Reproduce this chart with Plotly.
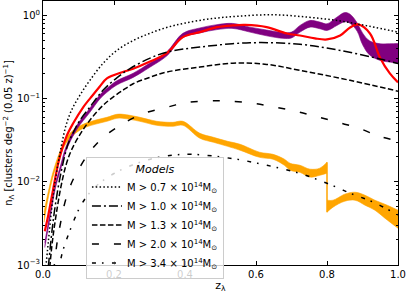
import plotly.graph_objects as go

# ---------------- data ----------------
# Model curves: cumulative mass thresholds
z_m07 = [0.005, 0.015, 0.025, 0.034, 0.045, 0.055, 0.065, 0.08, 0.104, 0.132, 0.169, 0.208, 0.254, 0.301,
         0.35, 0.40, 0.47, 0.55, 0.65, 0.75, 0.837, 0.92, 1.0]
n_m07 = [0.0007, 0.0019, 0.0050, 0.010, 0.019, 0.0316, 0.048, 0.072, 0.11, 0.166, 0.265, 0.38, 0.50, 0.61,
         0.72, 0.81, 0.91, 0.98, 1.02, 0.95, 0.86, 0.74, 0.63]

z_m10 = [0.015, 0.025, 0.034, 0.05, 0.07, 0.085, 0.104, 0.132, 0.169, 0.208, 0.245, 0.30, 0.349, 0.442,
         0.583, 0.724, 0.837, 0.949, 1.0]
n_m10 = [0.00095, 0.0025, 0.005, 0.0125, 0.028, 0.039, 0.055, 0.079, 0.126, 0.178, 0.23, 0.305, 0.363, 0.417,
         0.47, 0.45, 0.38, 0.30, 0.265]

z_m13 = [0.015, 0.025, 0.034, 0.05, 0.065, 0.08, 0.104, 0.132, 0.169, 0.189, 0.225, 0.254, 0.30, 0.349,
         0.442, 0.535, 0.625, 0.724, 0.865, 1.0]
n_m13 = [0.0006, 0.0017, 0.0033, 0.0085, 0.016, 0.024, 0.037, 0.055, 0.083, 0.098, 0.126, 0.151, 0.18, 0.209,
         0.24, 0.267, 0.26, 0.219, 0.166, 0.123]

z_m20 = [0.03, 0.04, 0.05, 0.062, 0.08, 0.099, 0.132, 0.169, 0.225, 0.282, 0.35, 0.406, 0.50, 0.59, 0.655,
         0.715, 0.77, 0.83, 0.89, 0.95, 1.0]
n_m20 = [0.00084, 0.0019, 0.0033, 0.0057, 0.0096, 0.0138, 0.023, 0.034, 0.05, 0.066, 0.079, 0.090, 0.094,
         0.088, 0.079, 0.070, 0.061, 0.052, 0.044, 0.035, 0.031]

z_m34 = [0.04, 0.054, 0.076, 0.11, 0.15, 0.2, 0.25, 0.3, 0.366, 0.42, 0.535, 0.631, 0.724, 0.80, 0.865,
         0.93, 1.0]
n_m34 = [0.0007, 0.00138, 0.0026, 0.0055, 0.0089, 0.0126, 0.0158, 0.0186, 0.0209, 0.0214, 0.019, 0.0158,
         0.0126, 0.0096, 0.0073, 0.0057, 0.0040]

model_labels = ["M > 0.7 × 10<sup>14</sup>M<sub>⊙</sub>",
                "M > 1.0 × 10<sup>14</sup>M<sub>⊙</sub>",
                "M > 1.3 × 10<sup>14</sup>M<sub>⊙</sub>",
                "M > 2.0 × 10<sup>14</sup>M<sub>⊙</sub>",
                "M > 3.4 × 10<sup>14</sup>M<sub>⊙</sub>"]

# Red data curve
z_red = [0.005, 0.015, 0.028, 0.045, 0.065, 0.085, 0.113, 0.14, 0.16, 0.18, 0.225, 0.254, 0.30, 0.349,
         0.394, 0.442, 0.49, 0.535, 0.57, 0.63, 0.687, 0.724, 0.766, 0.80, 0.837, 0.865, 0.887, 0.921,
         0.949, 0.977, 1.0]
n_red = [0.00255, 0.0040, 0.0079, 0.0182, 0.0343, 0.0505, 0.0787, 0.110, 0.14, 0.175, 0.209, 0.229, 0.277,
         0.353, 0.549, 0.630, 0.724, 0.759, 0.769, 0.724, 0.608, 0.575, 0.530, 0.515, 0.575, 0.718, 0.780,
         0.608, 0.313, 0.201, 0.157]

# Purple band
z_pur = [0.005, 0.02, 0.035, 0.05, 0.065, 0.096, 0.132, 0.16, 0.18, 0.208, 0.254, 0.30, 0.349, 0.394,
         0.442, 0.49, 0.535, 0.583, 0.63, 0.676, 0.70, 0.724, 0.752, 0.78, 0.80, 0.828, 0.85, 0.865, 0.885,
         0.90, 0.92, 0.95, 0.977, 1.0]
pur_hi = [0.00186, 0.00427, 0.00944, 0.0160, 0.0266, 0.0484, 0.0767, 0.111, 0.133, 0.164, 0.202, 0.266,
          0.367, 0.610, 0.708, 0.776, 0.802, 0.724, 0.668, 0.624, 0.631, 0.759, 0.871, 0.832, 0.794, 0.955,
          1.084, 1.035, 0.813, 0.617, 0.495, 0.457, 0.457, 0.461]
pur_lo = [0.00162, 0.00372, 0.00841, 0.0143, 0.0237, 0.0432, 0.0684, 0.0989, 0.119, 0.146, 0.180, 0.237,
          0.327, 0.543, 0.617, 0.676, 0.698, 0.631, 0.569, 0.531, 0.537, 0.631, 0.724, 0.692, 0.661, 0.759,
          0.841, 0.804, 0.646, 0.447, 0.335, 0.288, 0.275, 0.265]

# Orange band, before and after the step at z = 0.8
z_or1 = [0.003, 0.008, 0.014, 0.028, 0.048, 0.065, 0.085, 0.113, 0.146, 0.18, 0.208, 0.225, 0.273, 0.32,
         0.366, 0.394, 0.442, 0.48, 0.52, 0.555, 0.61, 0.648, 0.68, 0.696, 0.724, 0.752, 0.78, 0.8]
or1_hi = [0.00432, 0.00553, 0.00730, 0.0130, 0.0233, 0.0334, 0.0416, 0.0491, 0.0549, 0.0596, 0.0648, 0.0648,
          0.0596, 0.0534, 0.0519, 0.0534, 0.0383, 0.0343, 0.0307, 0.0283, 0.0227, 0.0214, 0.0187, 0.0167,
          0.0158, 0.0142, 0.0146, 0.0172]
or1_lo = [0.00327, 0.00444, 0.00618, 0.0114, 0.0203, 0.0291, 0.0363, 0.0440, 0.0491, 0.0534, 0.0580, 0.0580,
          0.0534, 0.0478, 0.0465, 0.0478, 0.0334, 0.0299, 0.0267, 0.0240, 0.0197, 0.0187, 0.0158, 0.0138,
          0.0130, 0.0114, 0.0120, 0.0127]
z_or2 = [0.8, 0.817, 0.85, 0.879, 0.907, 0.935, 0.963, 1.0]
or2_hi = [0.00601, 0.00601, 0.00710, 0.00750, 0.00690, 0.00601, 0.00538, 0.00456]
or2_lo = [0.00432, 0.00496, 0.00585, 0.00601, 0.00524, 0.00456, 0.00366, 0.00277]

x_ticks = [0.0, 0.2, 0.4, 0.6, 0.8, 1.0]
y_ticks = [1e-3, 1e-2, 1e-1, 1.0]
y_ticktext = ["10<sup>−3</sup>", "10<sup>−2</sup>", "10<sup>−1</sup>", "10<sup>0</sup>"]

# ---------------- figure ----------------
PURPLE = "#800080"
ORANGE = "#ffa500"
RED = "#ff0000"

fig = go.Figure()


def band(z, lo, hi, color):
    fig.add_trace(go.Scatter(x=z, y=lo, mode="lines", line=dict(color=color, width=0.6, shape="spline"),
                             showlegend=False, hoverinfo="skip"))
    fig.add_trace(go.Scatter(x=z, y=hi, mode="lines", line=dict(color=color, width=0.6, shape="spline"),
                             fill="tonexty", fillcolor=color, showlegend=False, hoverinfo="skip"))


band(z_or1, or1_lo, or1_hi, ORANGE)
band(z_or2, or2_lo, or2_hi, ORANGE)
fig.add_trace(go.Scatter(x=[z_or2[0], z_or1[-1]], y=[or2_lo[0], or1_hi[-1]], mode="lines",
                         line=dict(color=ORANGE, width=1.5), showlegend=False, hoverinfo="skip"))
band(z_pur, pur_lo, pur_hi, PURPLE)

fig.add_trace(go.Scatter(x=z_red, y=n_red, mode="lines", line=dict(color=RED, width=2.2, shape="spline"),
                         showlegend=False, hoverinfo="skip"))

models = [
    (z_m07, n_m07, "1.5px,2.3px"),
    (z_m10, n_m10, "9px,3px,2px,3px"),
    (z_m13, n_m13, "5.5px,2.5px"),
    (z_m20, n_m20, "7px,15px"),
    (z_m34, n_m34, "4px,6px,1.6px,8.4px"),
]
for (z, n, dash), lab in zip(models, model_labels):
    fig.add_trace(go.Scatter(x=z, y=n, mode="lines", name=lab,
                             line=dict(color="black", width=1.5, dash=dash, shape="spline")))

minor_vals = [k * 10.0 ** e for e in range(-3, 1) for k in range(2, 10) if k * 10.0 ** e < 1.5]

axis_common = dict(showline=True, linecolor="black", linewidth=1, mirror="ticks", ticks="inside",
                   ticklen=4, tickwidth=1, tickcolor="black", showgrid=False, zeroline=False,
                   automargin=False, tickfont=dict(size=10, color="black"))

fig.update_layout(
    width=407, height=293,
    margin=dict(l=43, r=9, t=1, b=28),
    paper_bgcolor="white", plot_bgcolor="white",
    font=dict(family="DejaVu Sans", color="black", size=10),
    xaxis=dict(range=[0, 1], tickvals=x_ticks, ticktext=[f"{v:.1f}" for v in x_ticks],
               title=dict(text="z<sub>λ</sub>", font=dict(size=11), standoff=2), **axis_common),
    yaxis=dict(type="log", range=[-3, 0.174], tickvals=y_ticks, ticktext=y_ticktext,
               minor=dict(tickvals=minor_vals, ticks="inside", ticklen=2, tickcolor="black", tickwidth=0.8),
               title=dict(text="n<sub>Λ</sub> [clusters deg<sup>−2</sup> (0.05 z)<sup>−1</sup>]",
                          font=dict(size=10), standoff=2), **axis_common),
    legend=dict(x=0.121, y=0.408, xanchor="left", yanchor="top", bgcolor="rgba(255,255,255,0.8)",
                bordercolor="#cccccc", borderwidth=1, font=dict(size=10), tracegroupgap=0,
                traceorder="normal", itemwidth=30,
                title=dict(text="<i>Models</i>", side="top center", font=dict(size=11))),
)

fig.write_html("out.html", config={"displayModeBar": False},
               post_script="document.body.style.margin='0';")
